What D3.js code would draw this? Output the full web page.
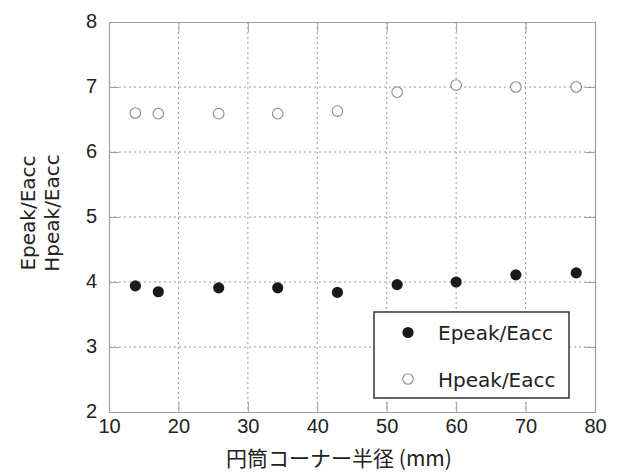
<!DOCTYPE html>
<html>
<head>
<meta charset="utf-8">
<script src="https://cdn.jsdelivr.net/npm/d3@7"></script>
<style>
  body { margin: 0; background: #fff; }
  text { fill: #222; }
</style>
</head>
<body>
<div id="chart"></div>
<script>
// corner radius (mm)
const radius = [13.8, 17.1, 25.8, 34.3, 42.9, 51.5, 60.0, 68.6, 77.3];
const epeak = [3.94, 3.85, 3.91, 3.91, 3.84, 3.96, 4.00, 4.11, 4.14];
const hpeak = [6.60, 6.59, 6.59, 6.59, 6.63, 6.92, 7.03, 7.00, 7.00];
const xTicks = [10, 20, 30, 40, 50, 60, 70, 80];
const yTicks = [2, 3, 4, 5, 6, 7, 8];
const seriesNames = ["Epeak/Eacc", "Hpeak/Eacc"];

const W = 621, H = 474;
const margin = { top: 22, right: 26, bottom: 62, left: 109 };
const width = W - margin.left - margin.right;
const height = H - margin.top - margin.bottom;

const svg = d3.select("#chart").append("svg")
  .attr("width", W)
  .attr("height", H);

const g = svg.append("g")
  .attr("transform", `translate(${margin.left},${margin.top})`);

const x = d3.scaleLinear().domain([10, 80]).range([0, width]);
const y = d3.scaleLinear().domain([2, 8]).range([height, 0]);

const frameColor = "#a0a0a0";

// dotted grid
g.selectAll(".gx").data(xTicks.slice(1, -1)).enter().append("line")
  .attr("x1", d => x(d)).attr("x2", d => x(d))
  .attr("y1", 0).attr("y2", height)
  .attr("stroke", "#9a9a9a").attr("stroke-width", 1)
  .attr("stroke-dasharray", "2,3");
g.selectAll(".gy").data(yTicks.slice(1, -1)).enter().append("line")
  .attr("y1", d => y(d)).attr("y2", d => y(d))
  .attr("x1", 0).attr("x2", width)
  .attr("stroke", "#9a9a9a").attr("stroke-width", 1)
  .attr("stroke-dasharray", "2,3");

// axes with inward ticks
const tick = 10;
const fmt = d3.format("d");
const axB = g.append("g").attr("transform", `translate(0,${height})`)
  .call(d3.axisBottom(x).tickValues(xTicks).tickFormat(fmt).tickSizeInner(-tick).tickSizeOuter(0).tickPadding(5));
const axT = g.append("g")
  .call(d3.axisTop(x).tickValues(xTicks).tickSizeInner(-tick).tickSizeOuter(0).tickFormat(""));
const axL = g.append("g")
  .call(d3.axisLeft(y).tickValues(yTicks).tickFormat(fmt).tickSizeInner(-tick).tickSizeOuter(0).tickPadding(12));
const axR = g.append("g").attr("transform", `translate(${width},0)`)
  .call(d3.axisRight(y).tickValues(yTicks).tickSizeInner(-tick).tickSizeOuter(0).tickFormat(""));

[axB, axT, axL, axR].forEach(a => {
  a.select(".domain").attr("stroke", frameColor).attr("stroke-width", 1.2);
  a.selectAll(".tick line").attr("stroke", frameColor);
  a.selectAll("text")
    .attr("font-family", "'Liberation Sans', Arial, sans-serif")
    .attr("font-size", 20)
    .attr("fill", "#222");
});
axB.selectAll("text").attr("dy", "0.8em");
axL.selectAll("text").attr("dy", "0.25em");

// points
g.selectAll(".hp").data(radius).enter().append("circle")
  .attr("cx", d => x(d))
  .attr("cy", (d, i) => y(hpeak[i]))
  .attr("r", 5.3)
  .attr("fill", "#fff")
  .attr("stroke", "#8a8a8a")
  .attr("stroke-width", 1.1);
g.selectAll(".ep").data(radius).enter().append("circle")
  .attr("cx", d => x(d))
  .attr("cy", (d, i) => y(epeak[i]))
  .attr("r", 5.6)
  .attr("fill", "#1a1a1a");

// legend
const lg = svg.append("g").attr("transform", "translate(374,312)");
lg.append("rect")
  .attr("width", 195).attr("height", 86)
  .attr("fill", "#fff")
  .attr("stroke", "#333").attr("stroke-width", 1.5);
lg.append("circle").attr("cx", 34).attr("cy", 20.5).attr("r", 5.6).attr("fill", "#1a1a1a");
lg.append("circle").attr("cx", 34).attr("cy", 67).attr("r", 5.3)
  .attr("fill", "#fff").attr("stroke", "#8a8a8a").attr("stroke-width", 1.1);
lg.selectAll(".lt").data(seriesNames).enter().append("text")
  .attr("x", 64)
  .attr("y", (d, i) => 28 + i * 46.5)
  .attr("font-family", "'DejaVu Sans', sans-serif")
  .attr("font-size", 20)
  .text(d => d);

// axis titles
svg.append("text")
  .attr("transform", "translate(35,213) rotate(-90)")
  .attr("text-anchor", "middle")
  .attr("font-family", "'DejaVu Sans', sans-serif")
  .attr("font-size", 20)
  .text(seriesNames[0]);
svg.append("text")
  .attr("transform", "translate(59,213) rotate(-90)")
  .attr("text-anchor", "middle")
  .attr("font-family", "'DejaVu Sans', sans-serif")
  .attr("font-size", 20)
  .text(seriesNames[1]);

svg.append("text")
  .attr("x", 339)
  .attr("y", 466)
  .attr("text-anchor", "middle")
  .attr("font-family", "'Noto Sans CJK JP', sans-serif")
  .attr("font-size", 21)
  .text("円筒コーナー半径 (mm)");
</script>
</body>
</html>
